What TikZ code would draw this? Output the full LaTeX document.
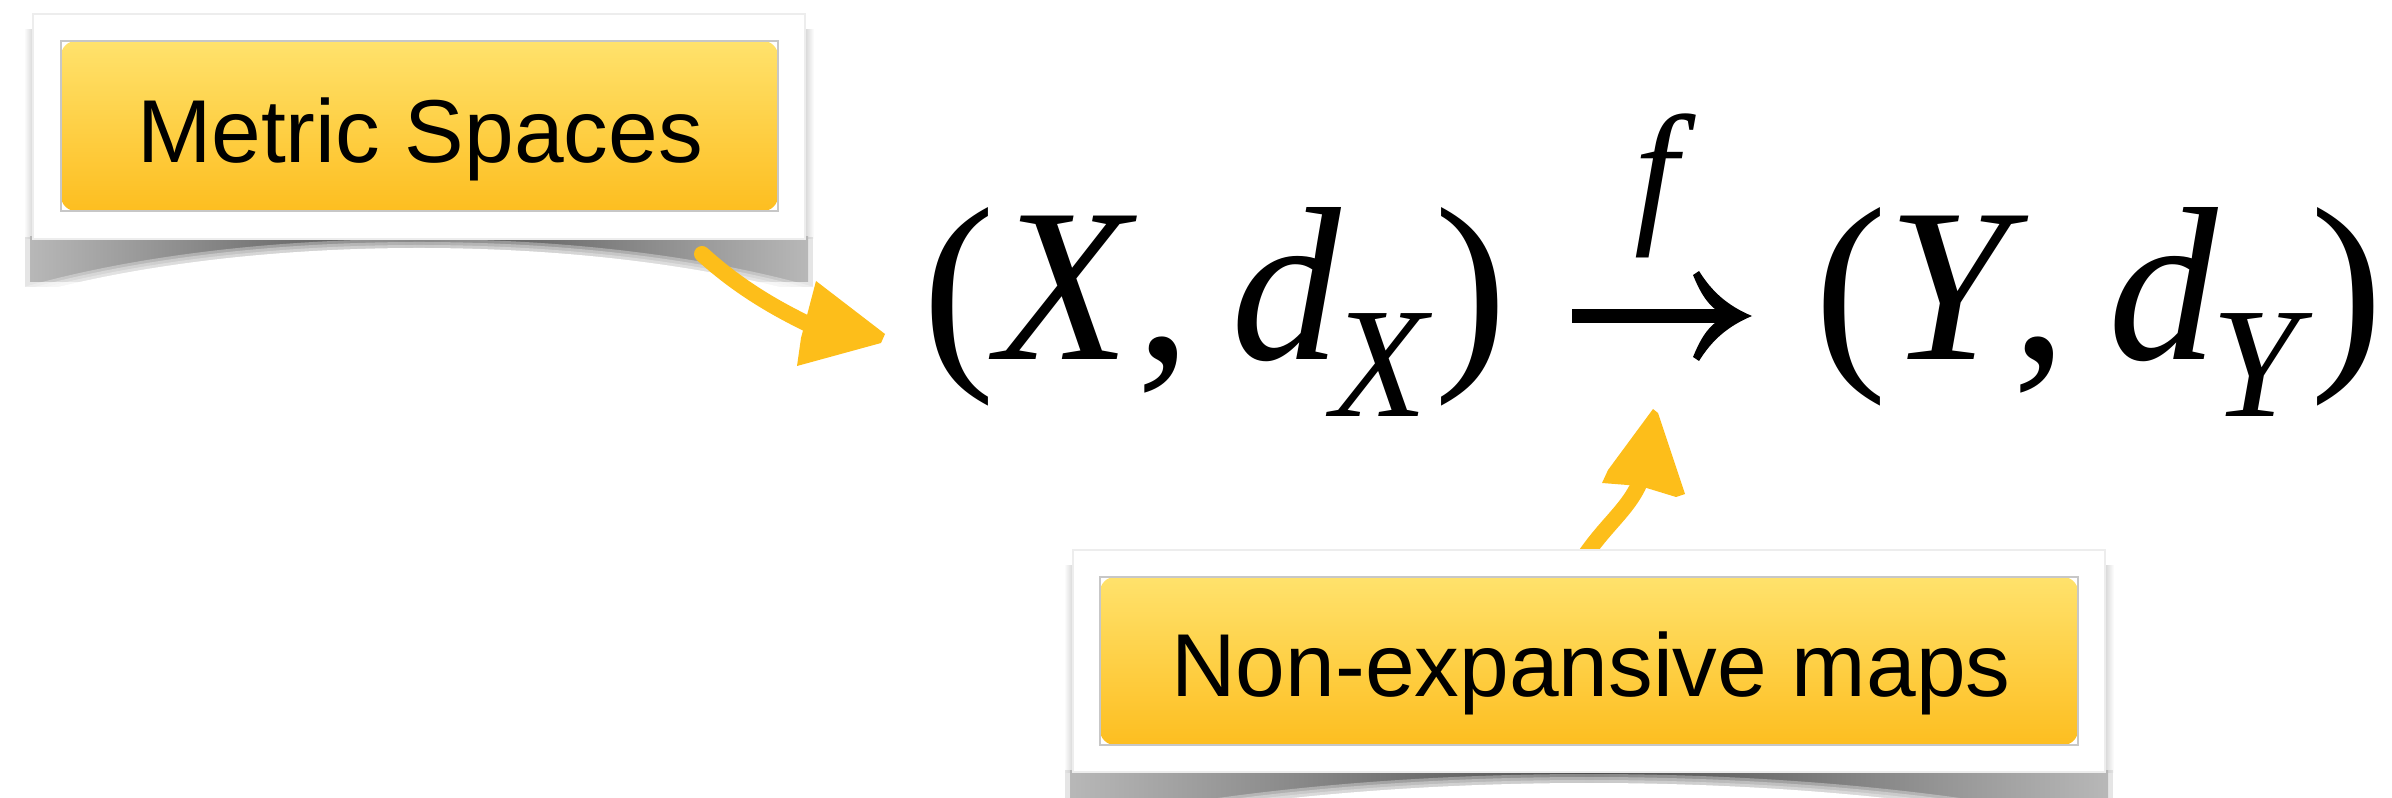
\documentclass[tikz,border=0pt]{standalone}
\usepackage{fontspec}
\newfontfamily\LSans{Liberation Sans}
\newfontfamily\LSerif{Liberation Serif}
\definecolor{ytop}{RGB}{255,226,108}
\definecolor{ybot}{RGB}{253,190,32}
\definecolor{yarrow}{RGB}{253,190,26}
\newcommand\BigMath{\LSerif\fontsize{62.3}{70}\selectfont}
\newcommand\SubMath{\LSerif\itshape\fontsize{44.7}{50}\selectfont}
\begin{document}
\begin{tikzpicture}[x=0.01cm,y=-0.01cm,
  mbig/.style={font=\BigMath, inner sep=0, outer sep=0, anchor=base west},
  msub/.style={font=\SubMath, inner sep=0, outer sep=0, anchor=base west},
  cardtext/.style={font=\LSans\fontsize{25.4}{30}\selectfont, inner sep=0, anchor=base},
  cardbg/.style={fill=white, draw=black!7, line width=0.4pt},
  ybox/.style={top color=ytop, bottom color=ybot, rounded corners=0.15cm},
  yline/.style={draw=black!22, line width=0.6pt},
  yhead/.style={fill=yarrow},
  yshaft/.style={draw=yarrow, line width=0.16cm, line cap=round},
  blackfill/.style={fill=black},
  shadowgrad/.style={left color=black!28, right color=black!28, middle color=black!70},
  shadowsoft/.style={fill=black!26, opacity=0.4},
  whitelayer/.style={fill=white, opacity=0.33},
  whitecore/.style={fill=white},
]
\useasboundingbox (0,0) rectangle (2392,798);

% ---------- card 1 shadows ----------
\shade[left color=white, right color=black!16] (24,30) rectangle (33,239);
\shade[left color=black!16, right color=white] (805,30) rectangle (814,239);
\begin{scope}
  \clip (18,237) rectangle (820,294);
  \fill[shadowsoft] (25,237) rectangle (813,287);
  \shade[shadowgrad] (30,237) rectangle (808,282);
  \foreach \cy in {433,436,439} {\fill[whitelayer] (419,\cy) ellipse [x radius=600, y radius=194];}
  \fill[whitecore] (419,442) ellipse [x radius=600, y radius=194];
\end{scope}

% ---------- card 2 shadows ----------
\shade[left color=white, right color=black!16] (1064,566) rectangle (1073,772);
\shade[left color=black!16, right color=white] (2105,566) rectangle (2114,772);
\begin{scope}
  \clip (1058,770) rectangle (2120,830);
  \fill[shadowsoft] (1065,770) rectangle (2113,840);
  \shade[shadowgrad] (1070,770) rectangle (2108,840);
  \foreach \cy in {985,988,991} {\fill[whitelayer] (1589,\cy) ellipse [x radius=800, y radius=211];}
  \fill[whitecore] (1589,994) ellipse [x radius=800, y radius=211];
\end{scope}

% ---------- yellow arrows ----------
\coordinate (a1s) at (702,254);
\coordinate (a1e) at (812,326);
\draw[yshaft] (a1s) .. controls (735,284) and (770,306) .. (a1e);
\fill[yhead] (816,281) -- (885,334) -- (881,343) -- (797,366) -- (801,338) -- cycle;

\coordinate (a2s) at (1582,560);
\coordinate (a2e) at (1640,482);
\draw[yshaft] (a2s) .. controls (1605,525) and (1628,510) .. (a2e);
\fill[yhead] (1653,409) -- (1658,413) -- (1685,494) -- (1676,497) -- (1640,486) -- (1602,483) -- (1608,470) -- cycle;

% ---------- card 1 ----------
\path[cardbg] (33,14) rectangle (805,239);
\path[ybox] (61,41) rectangle (778,211);
\draw[yline] (61,41) rectangle (778,211);
\node[cardtext] (ms) at (420,163) {Metric Spaces};

% ---------- card 2 ----------
\path[cardbg] (1073,550) rectangle (2105,772);
\path[ybox] (1100,577) rectangle (2078,745);
\draw[yline] (1100,577) rectangle (2078,745);
\node[cardtext] (nem) at (1591,697) {Non-expansive maps};

% ---------- formula ----------
\node[mbig] (lp1) at (922,360) {(};
\node[mbig] (x1) at (996,360) {\itshape X};
\node[mbig] (c1) at (1136,360) {,};
\node[mbig] (d1) at (1231,360) {\itshape d};
\node[msub] (sx) at (1331,417) {X};
\node[mbig] (rp1) at (1434,360) {)};

\node[msub] (f) at (1634,225) {f};
\coordinate (fa) at (1572,316);
\coordinate (fb) at (1752,316);
\fill[blackfill] (1572,309) rectangle (1732,323);
\fill[blackfill] (fb) .. controls (1728,306) and (1712,292) .. (1699,271) -- (1693,275)
  .. controls (1700,292) and (1706,302) .. (1716,310) -- (1716,322)
  .. controls (1706,330) and (1700,340) .. (1693,357) -- (1699,361)
  .. controls (1712,340) and (1728,326) .. (fb) -- cycle;

\node[mbig] (lp2) at (1814,360) {(};
\node[mbig] (y1) at (1887,360) {\itshape Y};
\node[mbig] (c2) at (2012,360) {,};
\node[mbig] (d2) at (2108,360) {\itshape d};
\node[msub] (sy) at (2211,417) {Y};
\node[mbig] (rp2) at (2310,360) {)};
\end{tikzpicture}
\end{document}
